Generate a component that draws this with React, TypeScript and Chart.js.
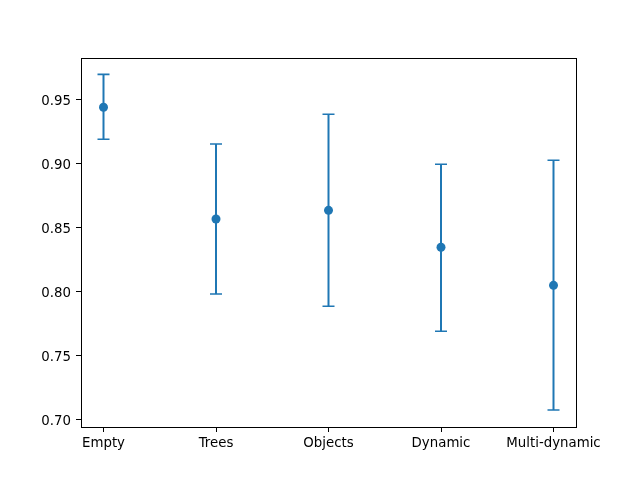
import React, { useEffect, useRef } from "react";
import { Chart, registerables } from "chart.js";

Chart.register(...registerables);

const categories: string[] = ["Empty", "Trees", "Objects", "Dynamic", "Multi-dynamic"];
const means: number[] = [0.9443, 0.857, 0.8638, 0.8349, 0.8052];
const upper: number[] = [0.970, 0.9156, 0.9388, 0.8998, 0.9029];
const lower: number[] = [0.9193, 0.7984, 0.7888, 0.7693, 0.7078];
const yTicks: number[] = [0.70, 0.75, 0.80, 0.85, 0.90, 0.95];

const BLUE = "#1f77b4";
const FONT = { family: "'DejaVu Sans', sans-serif", size: 13.333 };

const errorBarPlugin = {
  id: "errorBars",
  beforeDatasetsDraw(chart: any) {
    const ctx = chart.ctx;
    const xs = chart.scales.x;
    const ys = chart.scales.y;
    ctx.save();
    ctx.strokeStyle = BLUE;
    ctx.lineCap = "butt";
    categories.forEach((_, i) => {
      const px = xs.getPixelForValue(i);
      const top = ys.getPixelForValue(upper[i]);
      const bot = ys.getPixelForValue(lower[i]);
      ctx.lineWidth = 2;
      ctx.beginPath();
      ctx.moveTo(px, top);
      ctx.lineTo(px, bot);
      ctx.stroke();
      ctx.lineWidth = 1.6;
      ctx.beginPath();
      ctx.moveTo(px - 6, top);
      ctx.lineTo(px + 6, top);
      ctx.moveTo(px - 6, bot);
      ctx.lineTo(px + 6, bot);
      ctx.stroke();
    });
    ctx.restore();
  },
  afterDraw(chart: any) {
    const { left, right, top, bottom } = chart.chartArea;
    const ctx = chart.ctx;
    ctx.save();
    ctx.strokeStyle = "#000";
    ctx.lineWidth = 1;
    ctx.strokeRect(Math.round(left) + 0.5, Math.round(top) + 0.5, Math.round(right - left), Math.round(bottom - top));
    ctx.restore();
  },
};

export default function App() {
  const ref = useRef<HTMLCanvasElement | null>(null);
  useEffect(() => {
    if (!ref.current) return;
    const chart = new Chart(ref.current, {
      type: "scatter",
      data: {
        datasets: [
          {
            data: means.map((m, i) => ({ x: i, y: m })),
            backgroundColor: BLUE,
            borderColor: BLUE,
            pointRadius: 4.5,
            pointBorderWidth: 0,
            showLine: false,
          },
        ],
      },
      options: {
        animation: false,
        responsive: false,
        devicePixelRatio: 1,
        layout: { padding: { top: 58, right: 64, left: 0, bottom: 0 } },
        plugins: { legend: { display: false }, tooltip: { enabled: false } },
        scales: {
          x: {
            type: "linear",
            min: -0.2,
            max: 4.2,
            afterBuildTicks: (s: any) => {
              s.ticks = categories.map((_, i) => ({ value: i }));
            },
            afterFit: (s: any) => {
              s.height = 53;
            },
            ticks: {
              callback: (v: any) => categories[Math.round(Number(v))] ?? "",
              color: "#000",
              font: FONT,
              padding: 4,
              maxRotation: 0,
              autoSkip: false,
            },
            grid: { drawOnChartArea: false, drawTicks: true, tickLength: 5, tickColor: "#000", tickWidth: 1 },
            border: { display: false },
          },
          y: {
            type: "linear",
            min: 0.6945,
            max: 0.9828,
            afterBuildTicks: (s: any) => {
              s.ticks = yTicks.map((v) => ({ value: v }));
            },
            afterFit: (s: any) => {
              s.width = 81;
            },
            ticks: {
              callback: (v: any) => Number(v).toFixed(2),
              color: "#000",
              font: FONT,
              padding: 5,
              labelOffset: 1.5,
            },
            grid: { drawOnChartArea: false, drawTicks: true, tickLength: 5, tickColor: "#000", tickWidth: 1 },
            border: { display: false },
          },
        },
      },
      plugins: [errorBarPlugin],
    });
    return () => chart.destroy();
  }, []);
  return (
    <div style={{ position: "absolute", left: 0, top: 0, width: 640, height: 480, background: "#fff" }}>
      <canvas ref={ref} width={640} height={480} style={{ display: "block" }} />
    </div>
  );
}
